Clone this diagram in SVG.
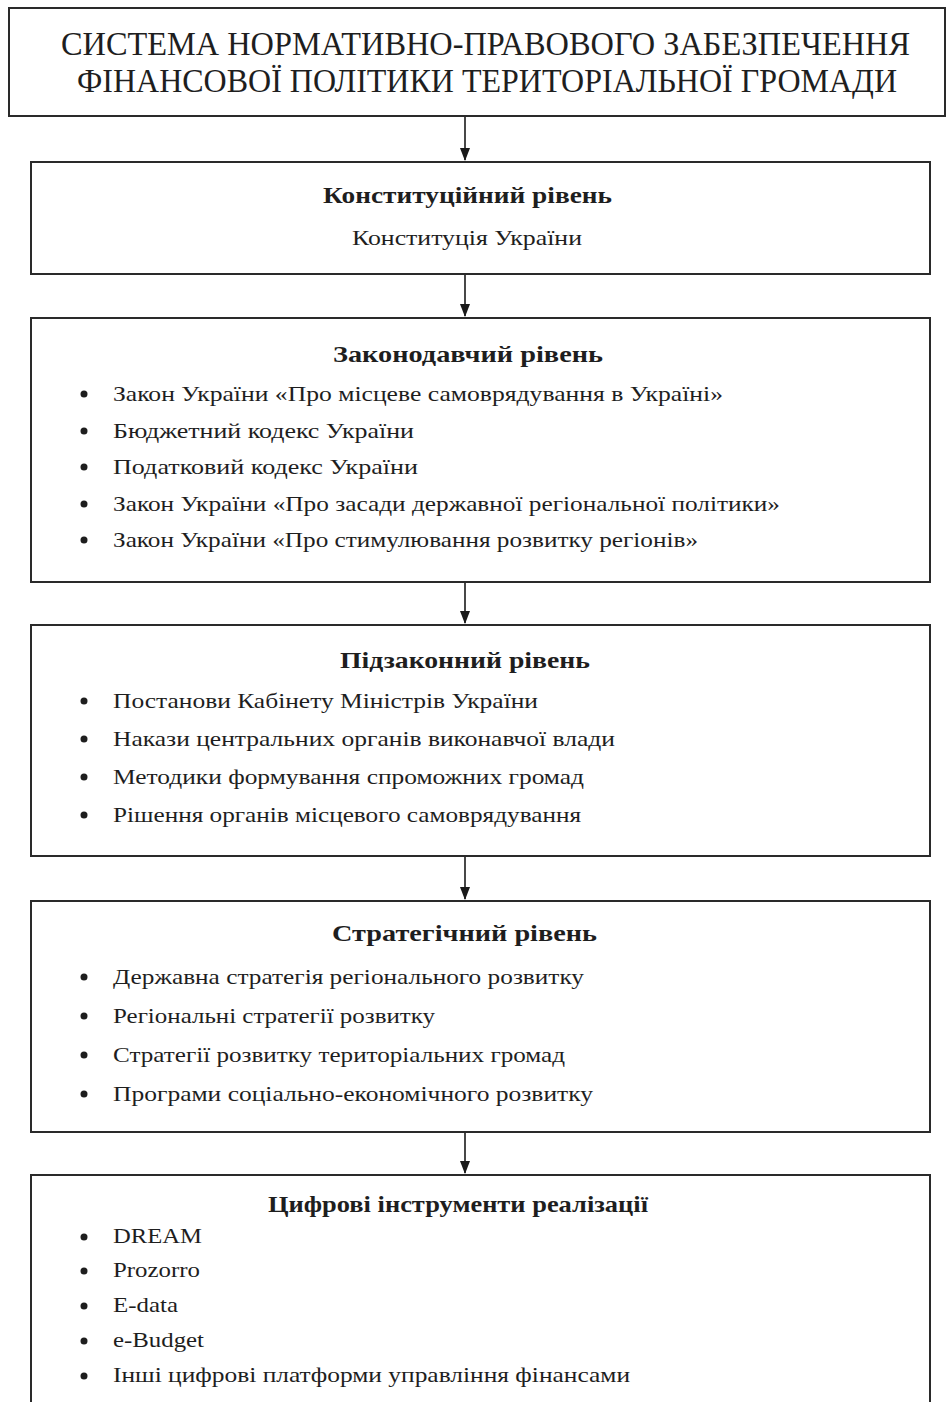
<svg xmlns="http://www.w3.org/2000/svg" width="950" height="1402" viewBox="0 0 950 1402">
<defs>
<marker id="ah" markerWidth="10" markerHeight="14" refX="5" refY="13" orient="auto-start-reverse" markerUnits="userSpaceOnUse" viewBox="0 0 10 14">
<path d="M0,0 L10,0 L5,14 Z" fill="#1a1a1a" transform="rotate(0)"/>
</marker>
<style>
.box{fill:#ffffff;stroke:#2a2a2a;stroke-width:2}
.t{font-family:"Liberation Serif","Times New Roman",serif;fill:#1e1e1e}
.hd{font-size:33px}
.b{font-size:23px;font-weight:bold}
.n{font-size:22px}
.dot{fill:#1e1e1e}
.con{stroke:#1a1a1a;stroke-width:1.6;fill:none}
</style>
</defs>
<rect width="950" height="1402" fill="#ffffff"/>

<g id="connectors">
<line class="con" x1="465" y1="117" x2="465" y2="160"/>
<path d="M460,148 L470,148 L465,161 Z" fill="#1a1a1a"/>
<line class="con" x1="465" y1="275" x2="465" y2="316"/>
<path d="M460,304 L470,304 L465,317 Z" fill="#1a1a1a"/>
<line class="con" x1="465" y1="583" x2="465" y2="623"/>
<path d="M460,611 L470,611 L465,624 Z" fill="#1a1a1a"/>
<line class="con" x1="465" y1="857" x2="465" y2="899"/>
<path d="M460,887 L470,887 L465,900 Z" fill="#1a1a1a"/>
<line class="con" x1="465" y1="1133" x2="465" y2="1173"/>
<path d="M460,1161 L470,1161 L465,1174 Z" fill="#1a1a1a"/>
</g>

<g id="title">
<rect class="box" x="9" y="8" width="936" height="108"/>
<text class="t hd" x="61" y="55" textLength="849" lengthAdjust="spacingAndGlyphs">СИСТЕМА НОРМАТИВНО-ПРАВОВОГО ЗАБЕЗПЕЧЕННЯ</text>
<text class="t hd" x="77" y="92" textLength="820" lengthAdjust="spacingAndGlyphs">ФІНАНСОВОЇ ПОЛІТИКИ ТЕРИТОРІАЛЬНОЇ ГРОМАДИ</text>
</g>

<g id="constitutional">
<rect class="box" x="31" y="162" width="899" height="112"/>
<text class="t b" x="323" y="203" textLength="289" lengthAdjust="spacingAndGlyphs">Конституційний рівень</text>
<text class="t n" x="352" y="245" textLength="230" lengthAdjust="spacingAndGlyphs">Конституція України</text>
</g>

<g id="legislative">
<rect class="box" x="31" y="318" width="899" height="264"/>
<text class="t b" x="333" y="362" textLength="270" lengthAdjust="spacingAndGlyphs">Законодавчий рівень</text>
<circle class="dot" cx="84" cy="394" r="3.5"/>
<text class="t n" x="113" y="401" textLength="610" lengthAdjust="spacingAndGlyphs">Закон України «Про місцеве самоврядування в Україні»</text>
<circle class="dot" cx="84" cy="431" r="3.5"/>
<text class="t n" x="113" y="438" textLength="301" lengthAdjust="spacingAndGlyphs">Бюджетний кодекс України</text>
<circle class="dot" cx="84" cy="467" r="3.5"/>
<text class="t n" x="113" y="474" textLength="305" lengthAdjust="spacingAndGlyphs">Податковий кодекс України</text>
<circle class="dot" cx="84" cy="504" r="3.5"/>
<text class="t n" x="113" y="511" textLength="667" lengthAdjust="spacingAndGlyphs">Закон України «Про засади державної регіональної політики»</text>
<circle class="dot" cx="84" cy="540" r="3.5"/>
<text class="t n" x="113" y="547" textLength="585" lengthAdjust="spacingAndGlyphs">Закон України «Про стимулювання розвитку регіонів»</text>
</g>

<g id="sublegislative">
<rect class="box" x="31" y="625" width="899" height="231"/>
<text class="t b" x="340" y="668" textLength="250" lengthAdjust="spacingAndGlyphs">Підзаконний рівень</text>
<circle class="dot" cx="84" cy="701" r="3.5"/>
<text class="t n" x="113" y="708" textLength="425" lengthAdjust="spacingAndGlyphs">Постанови Кабінету Міністрів України</text>
<circle class="dot" cx="84" cy="739" r="3.5"/>
<text class="t n" x="113" y="746" textLength="502" lengthAdjust="spacingAndGlyphs">Накази центральних органів виконавчої влади</text>
<circle class="dot" cx="84" cy="777" r="3.5"/>
<text class="t n" x="113" y="784" textLength="471" lengthAdjust="spacingAndGlyphs">Методики формування спроможних громад</text>
<circle class="dot" cx="84" cy="815" r="3.5"/>
<text class="t n" x="113" y="822" textLength="468" lengthAdjust="spacingAndGlyphs">Рішення органів місцевого самоврядування</text>
</g>

<g id="strategic">
<rect class="box" x="31" y="901" width="899" height="231"/>
<text class="t b" x="332" y="941" textLength="265" lengthAdjust="spacingAndGlyphs">Стратегічний рівень</text>
<circle class="dot" cx="84" cy="977" r="3.5"/>
<text class="t n" x="113" y="984" textLength="471" lengthAdjust="spacingAndGlyphs">Державна стратегія регіонального розвитку</text>
<circle class="dot" cx="84" cy="1016" r="3.5"/>
<text class="t n" x="113" y="1023" textLength="322" lengthAdjust="spacingAndGlyphs">Регіональні стратегії розвитку</text>
<circle class="dot" cx="84" cy="1055" r="3.5"/>
<text class="t n" x="113" y="1062" textLength="452" lengthAdjust="spacingAndGlyphs">Стратегії розвитку територіальних громад</text>
<circle class="dot" cx="84" cy="1094" r="3.5"/>
<text class="t n" x="113" y="1101" textLength="480" lengthAdjust="spacingAndGlyphs">Програми соціально-економічного розвитку</text>
</g>

<g id="digital">
<rect class="box" x="31" y="1175" width="899" height="240"/>
<text class="t b" x="268" y="1212" textLength="380" lengthAdjust="spacingAndGlyphs">Цифрові інструменти реалізації</text>
<circle class="dot" cx="84" cy="1237" r="3.5"/>
<text class="t n" x="113" y="1243" textLength="89" lengthAdjust="spacingAndGlyphs">DREAM</text>
<circle class="dot" cx="84" cy="1271" r="3.5"/>
<text class="t n" x="113" y="1277" textLength="87" lengthAdjust="spacingAndGlyphs">Prozorro</text>
<circle class="dot" cx="84" cy="1306" r="3.5"/>
<text class="t n" x="113" y="1312" textLength="65" lengthAdjust="spacingAndGlyphs">E-data</text>
<circle class="dot" cx="84" cy="1341" r="3.5"/>
<text class="t n" x="113" y="1347" textLength="91" lengthAdjust="spacingAndGlyphs">e-Budget</text>
<circle class="dot" cx="84" cy="1376" r="3.5"/>
<text class="t n" x="113" y="1382" textLength="517" lengthAdjust="spacingAndGlyphs">Інші цифрові платформи управління фінансами</text>
</g>
</svg>
